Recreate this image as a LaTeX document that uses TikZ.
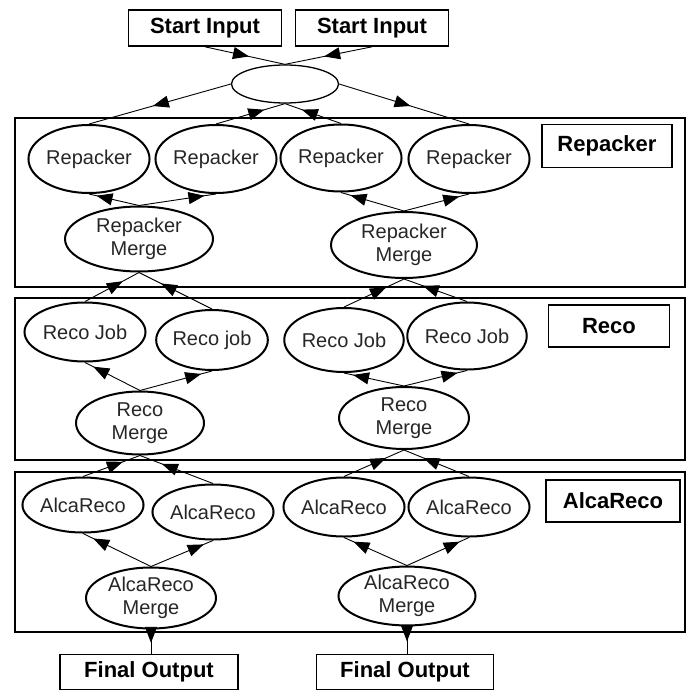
\documentclass[tikz,border=0pt]{standalone}
\usepackage{fontspec}
\setmainfont{Liberation Sans}
\usepackage{tikz}
\usetikzlibrary{shapes.geometric,arrows.meta,decorations.markings}

\begin{document}
\begin{tikzpicture}
  [x=1pt,y=-1pt,
   job/.style={ellipse,draw,line width=2pt,inner sep=0pt,text=black!85,align=center,
     font=\fontsize{20}{23}\selectfont,minimum width=112pt,minimum height=64pt},
   mrg/.style={job,minimum width=140pt,minimum height=63pt},
   tag/.style={rectangle,draw,line width=1.6pt,inner sep=0pt,minimum height=36pt,
     font=\bfseries\fontsize{22}{24}\selectfont},
   panel/.style={draw,line width=1.3pt},
   flow/.style={line width=0.9pt,postaction={decorate},decoration={markings,
     mark=at position #1 with {\arrow{Triangle[length=16pt,width=12pt]}}}},
   flow/.default=0.5]
  \useasboundingbox (0,0) rectangle (688,690);

  % stages
  \draw[panel] (15,118) rectangle (685,287);
  \draw[panel] (15,298) rectangle (685,460);
  \draw[panel] (15,472) rectangle (685,632);

  \node[tag,minimum width=153pt] (si1) at (205,28) {Start Input};
  \node[tag,minimum width=153pt] (si2) at (372,28) {Start Input};
  \node[job,minimum width=107pt,minimum height=38pt,line width=1.3pt] (top) at (285,84) {};

  % Repacker
  \node[tag,minimum width=130pt,minimum height=43pt] (lrp) at (607,146) {Repacker};
  \node[job,minimum width=121pt,minimum height=68pt] (rp1) at (89,159) {Repacker};
  \node[job,minimum width=106pt,minimum height=68pt] (rp2) at (216,159) {Repacker};
  \node[job,minimum width=112pt,minimum height=67pt] (rp3) at (341,158) {Repacker};
  \node[job,minimum width=113pt,minimum height=68pt] (rp4) at (469,159) {Repacker};
  \node[mrg,minimum width=148pt,minimum height=65pt] (rpm1) at (139,239) {Repacker\\Merge};
  \node[mrg,minimum width=146pt,minimum height=66pt] (rpm2) at (404,245) {Repacker\\Merge};

  % Reco
  \node[tag,minimum width=121pt,minimum height=42pt] (lrj) at (609,326) {Reco};
  \node[job,minimum width=121pt,minimum height=59pt] (rj1) at (85,332) {Reco Job};
  \node[job,minimum width=108pt,minimum height=60pt] (rj2) at (212,340) {Reco job};
  \node[job,minimum width=113pt,minimum height=64pt] (rj3) at (344,340) {Reco Job};
  \node[job,minimum width=108pt,minimum height=67pt] (rj4) at (467,336) {Reco Job};
  \node[mrg,minimum width=128pt,minimum height=63pt] (rjm1) at (140,423) {Reco\\Merge};
  \node[mrg,minimum width=130pt,minimum height=62pt] (rjm2) at (404,418) {Reco\\Merge};

  % AlcaReco
  \node[tag,minimum width=134pt,minimum height=42pt] (lar) at (613,501) {AlcaReco};
  \node[job,minimum width=109pt,minimum height=55pt] (ar1) at (83,505) {AlcaReco};
  \node[job,minimum width=110pt,minimum height=55pt] (ar2) at (213,512) {AlcaReco};
  \node[job,minimum width=110pt,minimum height=59pt] (ar3) at (344,507) {AlcaReco};
  \node[job,minimum width=115pt,minimum height=59pt] (ar4) at (469,507) {AlcaReco};
  \node[mrg,minimum width=130pt,minimum height=61pt] (arm1) at (151,598) {AlcaReco\\Merge};
  \node[mrg,minimum width=137pt,minimum height=58pt] (arm2) at (407,596) {AlcaReco\\Merge};

  \node[tag,minimum width=178pt,minimum height=35pt] (fo1) at (149,672) {Final Output};
  \node[tag,minimum width=177pt,minimum height=35pt] (fo2) at (405,672) {Final Output};

  \foreach \from/\to in {si1.south/top.north,si2.south/top.north,top.west/rp1.north,top.east/rp4.north}
    \draw[flow=0.55] (\from) -- (\to);
  \foreach \from/\to in {rp2.north/top.south,rp3.north/top.south}
    \draw[flow=0.7] (\from) -- (\to);

  \foreach \from/\to in {rpm1.north/rp1.south,rpm1.north/rp2.south,rpm2.north/rp3.south,rpm2.north/rp4.south,
    rjm1.north/rj1.south,rjm1.north/rj2.south,rjm2.north/rj3.south,rjm2.north/rj4.south,
    arm1.north/ar1.south,arm1.north/ar2.south,arm2.north/ar3.south,arm2.north/ar4.south}
    \draw[flow=0.85] (\from) -- (\to);

  \foreach \from/\to in {rj1.north/rpm1.south,rj2.north/rpm1.south,rj3.north/rpm2.south,rj4.north/rpm2.south,
    ar1.north/rjm1.south,ar2.north/rjm1.south,ar3.north/rjm2.south,ar4.north/rjm2.south}
    \draw[flow=0.7] (\from) -- (\to);

  \draw[flow=0.55] (arm1.south) -- (arm1.south |- fo1.north);
  \draw[flow=0.55] (arm2.south) -- (arm2.south |- fo2.north);

\end{tikzpicture}
\end{document}
